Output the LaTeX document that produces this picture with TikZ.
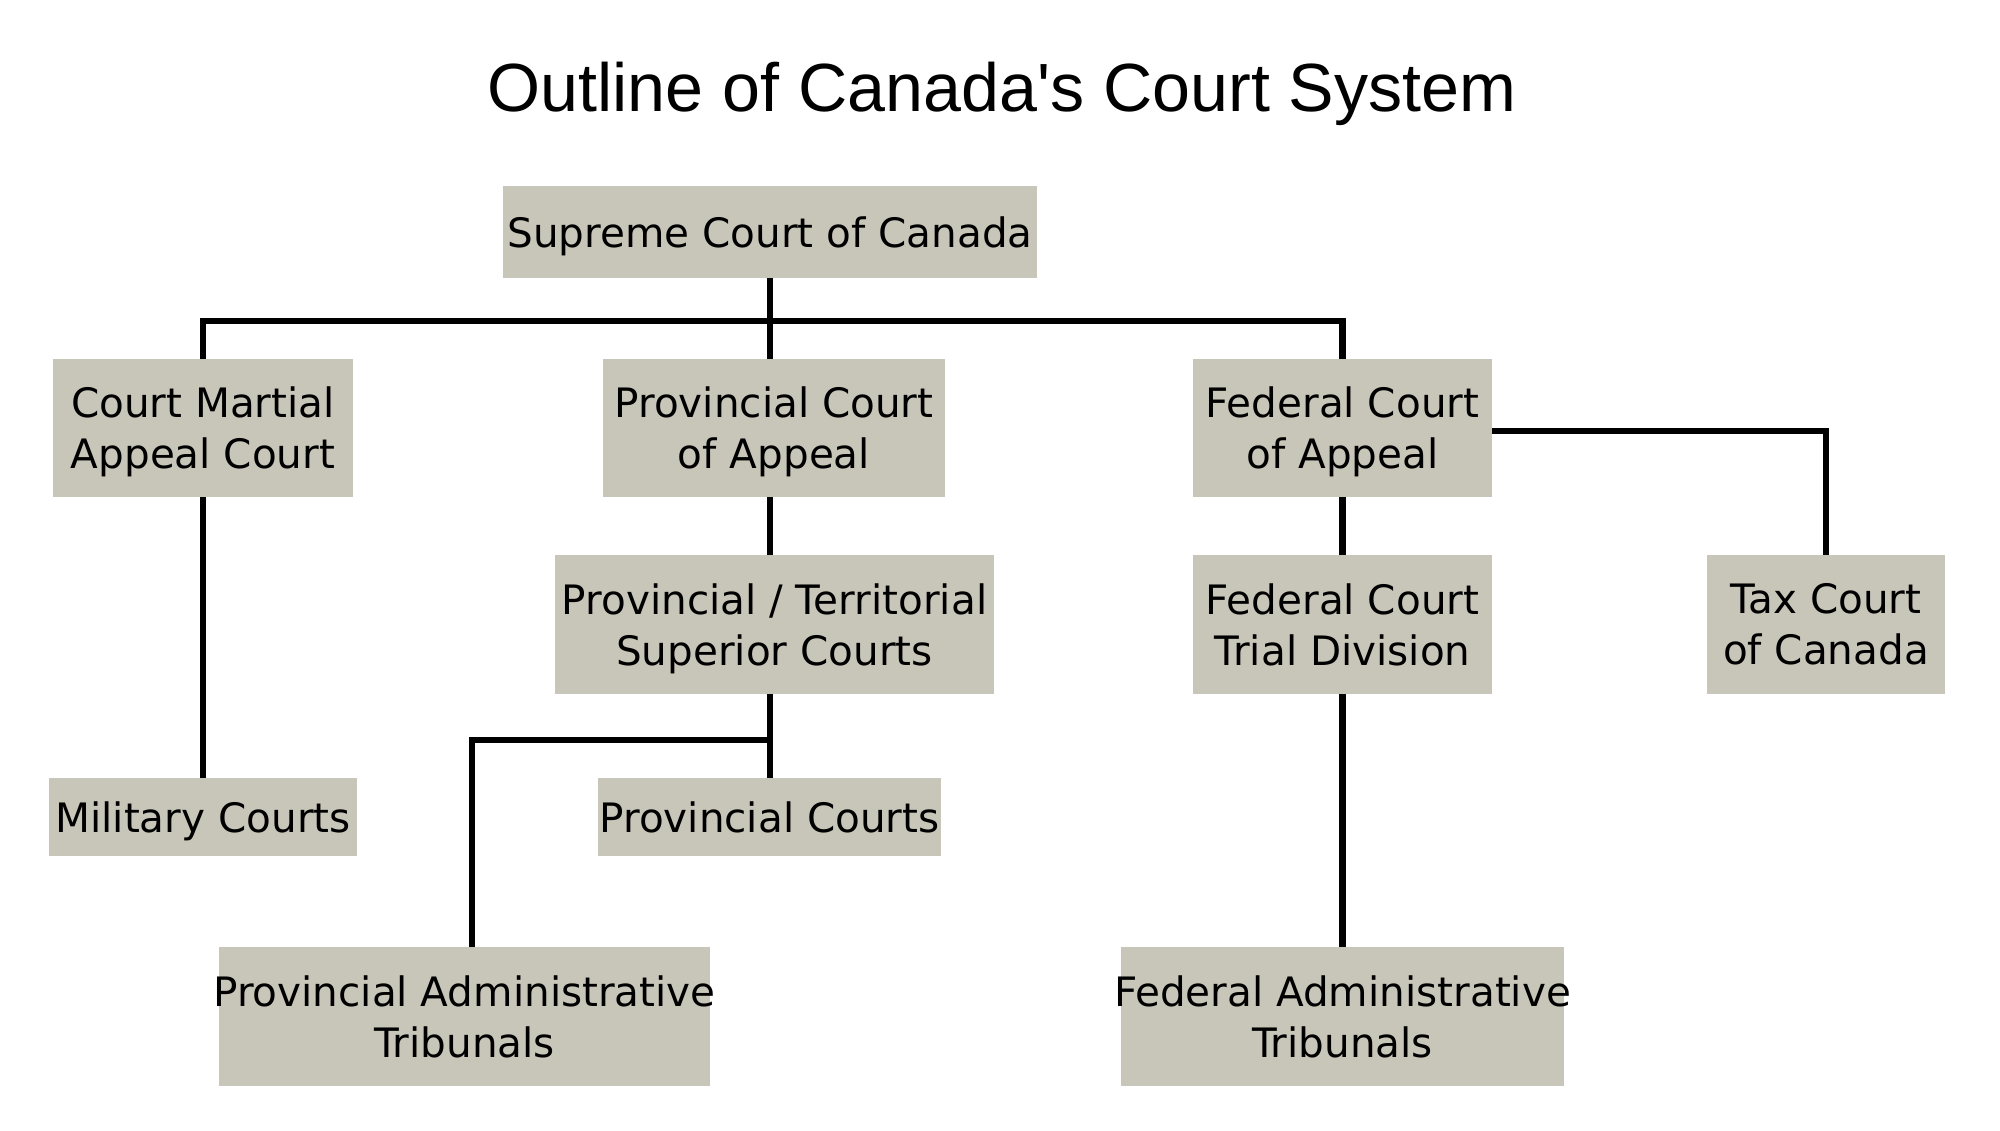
\documentclass[tikz,border=0pt]{standalone}
\usepackage{fontspec}
\setmainfont{DejaVu Sans}
\newfontfamily\titlefont[Ligatures=TeXOff]{Liberation Sans}
\definecolor{boxfill}{HTML}{C8C5B9}
\begin{document}
\begin{tikzpicture}[x=0.5pt,y=-0.5pt,
  box/.style={rectangle, fill=boxfill, inner sep=0pt, outer sep=0pt},
  lbl/.style={align=center, inner sep=0pt, font=\fontsize{20.25pt}{25.5pt}\selectfont},
  lbld/.style={lbl, yshift=-2pt},
  conn/.style={line width=3.2pt, black}]
\useasboundingbox[fill=white] (0,0) rectangle (2000,1130);

\node[font=\titlefont\fontsize{34.1pt}{40pt}\selectfont, anchor=base, inner sep=0pt] (title) at (1002,111) {Outline of Canada's Court System};

% boxes
\node[box, minimum width=267pt,    minimum height=46pt]   (sup)  at (770,232) {};
\node[box, minimum width=150pt,    minimum height=69pt]   (cmac) at (203,428) {};
\node[box, minimum width=171pt,    minimum height=69pt]   (pca)  at (774,428) {};
\node[box, minimum width=149.5pt,  minimum height=69pt]   (fca)  at (1342.5,428) {};
\node[box, minimum width=219.5pt,  minimum height=69.5pt] (pts)  at (774.5,624.5) {};
\node[box, minimum width=149.5pt,  minimum height=69.5pt] (fctd) at (1342.5,624.5) {};
\node[box, minimum width=118.75pt, minimum height=69.5pt] (tax)  at (1826,624.5) {};
\node[box, minimum width=154.25pt, minimum height=39pt]   (mil)  at (203,817) {};
\node[box, minimum width=171.5pt,  minimum height=39pt]   (pc)   at (769.5,817) {};
\node[box, minimum width=245.5pt,  minimum height=69.5pt] (pat)  at (464.5,1016.5) {};
\node[box, minimum width=221.5pt,  minimum height=69.5pt] (fat)  at (1342.5,1016.5) {};

% labels
\node[lbld] (tsup)  at (sup.center)  {Supreme Court of Canada};
\node[lbld] (tcmac) at (cmac.center) {Court Martial\\Appeal Court};
\node[lbld] (tpca)  at (pca.center)  {Provincial Court\\of Appeal};
\node[lbld] (tfca)  at (fca.center)  {Federal Court\\of Appeal};
\node[lbld] (tpts)  at (pts.center)  {Provincial / Territorial\\Superior Courts};
\node[lbl]  (tfctd) at (fctd.center) {Federal Court\\Trial Division};
\node[lbl]  (ttax)  at (tax.center)  {Tax Court\\of Canada};
\node[lbld] (tmil)  at (mil.center)  {Military Courts};
\node[lbl]  (tpc)   at (pc.center)   {Provincial Courts};
\node[lbl]  (tpat)  at (pat.center)  {Provincial Administrative\\Tribunals};
\node[lbl]  (tfat)  at (fat.center)  {Federal Administrative\\Tribunals};

% connectors
\coordinate (bus) at (770,321);
\coordinate (br)  at (770,740);
\draw[conn] (sup.south) -- (sup.south |- pca.north);
\draw[conn] (cmac.north) |- (bus) -| (fca.north);
\draw[conn] (sup.south |- pca.south) -- (sup.south |- pts.north);
\draw[conn] (sup.south |- pts.south) -- (sup.south |- pc.north);
\draw[conn] (br) -| ([xshift=3.75pt]pat.north);
\draw[conn] (cmac.south) -- (mil.north);
\draw[conn] (fca.south) -- (fctd.north);
\draw[conn] ([yshift=-1.5pt]fca.east) -| (tax.north);
\draw[conn] (fctd.south) -- (fat.north);
\end{tikzpicture}
\end{document}
